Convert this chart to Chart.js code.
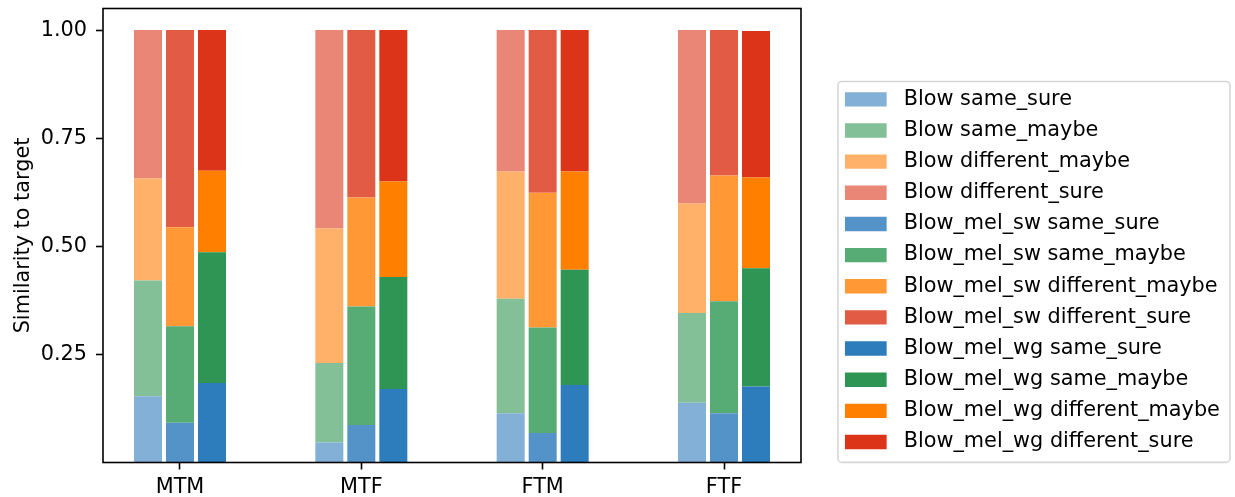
<!DOCTYPE html>
<html>
<head>
<meta charset="utf-8">
<script src="https://cdn.jsdelivr.net/npm/chart.js@4.4.1/dist/chart.umd.min.js"></script>
<style>
  html, body { margin: 0; padding: 0; background: #fff; }
  #wrap { width: 1235px; height: 497px; position: relative; }
</style>
</head>
<body>
<div id="wrap"><canvas id="simCanvas"></canvas></div>
<script>
'use strict'

// categories on the x axis, one bar per model in each
const categories = ['MTM', 'MTF', 'FTM', 'FTF'];
const models = ['Blow', 'Blow_mel_sw', 'Blow_mel_wg'];
const responses = ['same_sure', 'same_maybe', 'different_maybe', 'different_sure'];
const yTicks = [0.25, 0.50, 0.75, 1.00];

// shares per response, in category order
const blowSameSure      = [0.153, 0.046, 0.114, 0.138];
const blowSameMaybe     = [0.268, 0.184, 0.265, 0.208];
const blowDiffMaybe     = [0.236, 0.311, 0.294, 0.253];
const blowDiffSure      = [0.343, 0.459, 0.327, 0.401];

const swSameSure        = [0.092, 0.087, 0.068, 0.114];
const swSameMaybe       = [0.223, 0.274, 0.244, 0.259];
const swDiffMaybe       = [0.229, 0.252, 0.312, 0.291];
const swDiffSure        = [0.456, 0.387, 0.376, 0.336];

const wgSameSure        = [0.184, 0.170, 0.179, 0.176];
const wgSameMaybe       = [0.302, 0.259, 0.267, 0.273];
const wgDiffMaybe       = [0.189, 0.221, 0.227, 0.210];
const wgDiffSure        = [0.325, 0.350, 0.327, 0.339];

const values = [
  [blowSameSure, blowSameMaybe, blowDiffMaybe, blowDiffSure],
  [swSameSure, swSameMaybe, swDiffMaybe, swDiffSure],
  [wgSameSure, wgSameMaybe, wgDiffMaybe, wgDiffSure]
];

const colors = [
  ['#82b0d6', '#84c097', '#ffb16a', '#e98676'],
  ['#5493c8', '#57ab75', '#ff9835', '#e25c45'],
  ['#2d7cbb', '#2e9555', '#ff7f00', '#db3419']
];

let datasets = [];
models.forEach((m, mi) => {
  responses.forEach((r, ri) => {
    datasets.push({
      label: m + ' ' + r,
      stack: m,
      data: values[mi][ri].map((v, i) => ({x: i, y: v})),
      backgroundColor: colors[mi][ri],
      borderWidth: 0
    });
  });
});

const FONT = 20.8;
const legendLeft = 834.6, legendTop = 78.6, legendWidth = 395;

// matplotlib-ish frame round the axes and round the legend
const framePlugin = {
  id: 'frame',
  afterLayout(chart) {
    // layout caps the legend at a quarter of the width, so put it back by hand
    const lg = chart.legend;
    const dy = legendTop - lg.top;
    lg.left = legendLeft;
    lg.width = legendWidth;
    lg.right = legendLeft + legendWidth;
    lg.top += dy; lg.bottom += dy;
  },
  afterDraw(chart) {
    const ctx = chart.ctx, a = chart.chartArea;
    ctx.save();
    ctx.strokeStyle = '#000';
    ctx.lineWidth = 1.6;
    ctx.strokeRect(a.left, a.top, a.right - a.left, a.bottom - a.top);

    const hb = chart.legend.legendHitBoxes;
    if (hb && hb.length) {
      const first = hb[0], last = hb[hb.length - 1];
      const x0 = first.left - 7, y0 = first.top - 7.5;
      const x1 = first.left + 385, y1 = last.top + last.height + 10;
      ctx.strokeStyle = '#d6d6d6';
      ctx.lineWidth = 1.6;
      ctx.beginPath();
      ctx.roundRect(x0, y0, x1 - x0, y1 - y0, 4);
      ctx.stroke();
    }
    ctx.restore();
  }
};

Chart.defaults.font.family = 'DejaVu Sans';
Chart.defaults.color = '#000';

const defaultLabels = Chart.defaults.plugins.legend.labels.generateLabels;

new Chart(document.getElementById('simCanvas'), {
  type: 'bar',
  data: { datasets: datasets },
  plugins: [framePlugin],
  options: {
    responsive: true,
    maintainAspectRatio: false,
    animation: false,
    categoryPercentage: 0.5294,
    barPercentage: 0.875,
    layout: { padding: { top: 8.5, right: 167, bottom: 0, left: 0 } },
    plugins: {
      tooltip: { enabled: false },
      legend: {
        position: 'right',
        align: 'start',
        labels: {
          boxWidth: 41.7,
          boxHeight: 14.4,
          padding: 10.35,
          color: '#000',
          font: { size: FONT },
          // a bit more room between swatch and text, like matplotlib
          generateLabels: (chart) => defaultLabels(chart).map(l => { l.text = ' ' + l.text; return l; })
        }
      }
    },
    scales: {
      x: {
        type: 'linear',
        offset: false,
        min: -0.4246,
        max: 3.4246,
        afterBuildTicks: (axis) => { axis.ticks = categories.map((c, i) => ({value: i})); },
        afterFit: (axis) => { axis.height = 34.5; axis.paddingLeft = 0; axis.paddingRight = 0; },
        border: { display: false },
        grid: { offset: false, drawOnChartArea: false, drawTicks: true, tickLength: 7, tickWidth: 1.6, tickColor: '#000' },
        ticks: {
          autoSkip: false,
          maxRotation: 0,
          padding: 6,
          font: { size: FONT },
          callback: (v) => categories[v]
        }
      },
      y: {
        stacked: true,
        min: 0,
        max: 1.05,
        afterBuildTicks: (axis) => { axis.ticks = yTicks.map(v => ({value: v})); },
        afterFit: (axis) => { axis.width = 103; axis.paddingTop = 0; axis.paddingBottom = 0; },
        border: { display: false },
        grid: { drawOnChartArea: false, drawTicks: true, tickLength: 7, tickWidth: 1.6, tickColor: '#000' },
        ticks: {
          padding: 9,
          font: { size: FONT },
          callback: (v) => Number(v).toFixed(2)
        },
        title: {
          display: true,
          text: 'Similarity to target',
          font: { size: FONT },
          padding: { top: 11, bottom: 0 }
        }
      }
    }
  }
});
</script>
</body>
</html>
